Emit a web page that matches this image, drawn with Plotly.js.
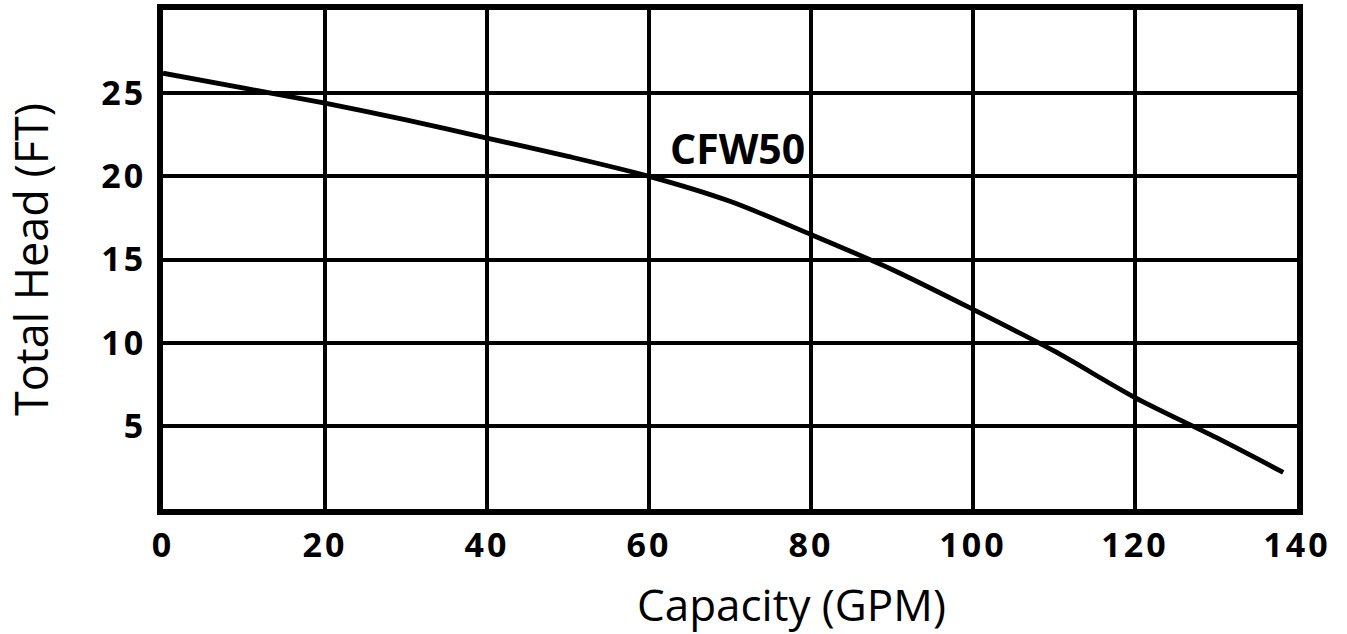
<!DOCTYPE html>
<html>
<head>
<meta charset="utf-8">
<script src="https://cdn.plot.ly/plotly-3.0.1.min.js"></script>
<style>
html,body{margin:0;padding:0;background:#fff;}
#chart{width:1347px;height:634px;}
.xtick text, .ytick text{letter-spacing:3px;}
</style>
</head>
<body>
<div id="chart"></div>
<script>
const capacityGPM = [0, 10, 20, 30, 40, 50, 60, 70, 80, 90, 100, 110, 120, 130, 138.3];
const totalHeadFT = [26.2, 25.3, 24.4, 23.4, 22.3, 21.2, 20.0, 18.5, 16.5, 14.4, 12.0, 9.5, 6.7, 4.3, 2.2];
const xTickVals = [0, 20, 40, 60, 80, 100, 120, 140];
const yTickVals = [5, 10, 15, 20, 25];
const seriesName = 'CFW50';
const xTitle = 'Capacity (GPM)';
const yTitle = 'Total Head (FT)';

const trace = {
  x: capacityGPM, y: totalHeadFT, type: 'scatter', mode: 'lines',
  line: {color: '#000', width: 4.8, shape: 'spline', smoothing: 0.8},
  name: seriesName, hoverinfo: 'x+y'
};

const layout = {
  width: 1347, height: 634,
  margin: {l: 163, r: 50, t: 10, b: 125},
  paper_bgcolor: '#fff', plot_bgcolor: '#fff',
  showlegend: false,
  font: {family: 'Open Sans, sans-serif', color: '#000'},
  xaxis: {
    range: [0, 140], tickvals: xTickVals, ticks: '',
    showgrid: true, gridcolor: '#000', gridwidth: 4,
    zeroline: false, showline: true, mirror: true, linecolor: '#000', linewidth: 6,
    tickfont: {size: 34, weight: 'bold', color: '#000'},
    ticklabelstandoff: 1
  },
  yaxis: {
    range: [0, 30], tickvals: yTickVals, ticks: '',
    showgrid: true, gridcolor: '#000', gridwidth: 4,
    zeroline: false, showline: true, mirror: true, linecolor: '#000', linewidth: 6,
    tickfont: {size: 34, weight: 'bold', color: '#000'},
    ticklabelstandoff: 4,
    title: {text: yTitle, font: {size: 45, color: '#000'}, standoff: 46}
  },
  annotations: [
    {
      x: 70.9, y: 21.7, xref: 'x', yref: 'y', text: '<b>' + seriesName + '</b>', showarrow: false,
      font: {size: 41, color: '#000'}
    },
    {
      x: 0.5545, y: 0, xref: 'paper', yref: 'paper', yanchor: 'top', yshift: -63,
      text: xTitle, showarrow: false, font: {size: 44, color: '#000'}
    }
  ]
};

Plotly.newPlot('chart', [trace], layout, {displayModeBar: false, staticPlot: true});
</script>
</body>
</html>
